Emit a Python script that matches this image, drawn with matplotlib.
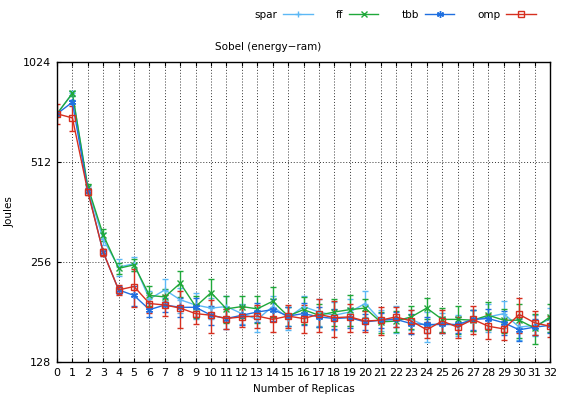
import numpy as np
import matplotlib
matplotlib.use("Agg")
import matplotlib.pyplot as plt
from matplotlib.ticker import FixedLocator, NullLocator

replicas = list(range(33))
spar = [715, 824, 425, 300, 247, 253, 198, 211, 197, 190, 186, 188, 179, 172, 188, 174,
        188, 181, 177, 181, 192, 171, 173, 172, 164, 168, 165, 171, 175, 179, 163, 165, 172]
ff = [715, 824, 431, 309, 245, 251, 203, 201, 221, 188, 207, 185, 188, 185, 195, 176,
      184, 177, 181, 184, 186, 169, 170, 175, 186, 172, 172, 171, 177, 171, 171, 162, 175]
tbb = [715, 775, 420, 274, 211, 203, 184, 190, 187, 187, 177, 173, 177, 181, 184, 176,
       179, 175, 173, 174, 169, 171, 172, 167, 166, 166, 166, 172, 173, 168, 160, 163, 165]
omp = [715, 695, 417, 274, 211, 216, 192, 190, 186, 179, 177, 173, 175, 176, 172, 176,
       173, 178, 174, 175, 170, 171, 175, 170, 160, 170, 163, 172, 164, 161, 178, 168, 164]

spar_err = [8, 14, 10, 12, 14, 12, 12, 16, 17, 17, 14, 14, 12, 14, 14, 14,
            14, 17, 17, 17, 17, 12, 16, 12, 17, 12, 12, 12, 17, 17, 14, 12, 14]
ff_err = [8, 14, 10, 12, 10, 10, 14, 12, 20, 14, 20, 17, 14, 17, 20, 12,
          17, 14, 17, 20, 12, 12, 12, 14, 14, 14, 17, 12, 17, 14, 20, 17, 17]
tbb_err = [6, 10, 7, 7, 6, 14, 9, 9, 12, 12, 12, 12, 12, 12, 14, 12,
           14, 12, 12, 12, 9, 9, 9, 12, 9, 9, 9, 12, 12, 14, 12, 9, 9]
omp_err = [50, 60, 10, 7, 7, 28, 12, 14, 24, 12, 20, 12, 12, 14, 14, 14,
           17, 20, 22, 17, 12, 17, 12, 14, 9, 14, 12, 17, 14, 12, 22, 14, 12]

y_ticks = [128, 256, 512, 1024]

fig = plt.figure(figsize=(5.61, 3.98), dpi=100)
ax = fig.add_axes([57/561, 1-362/398, (550-57)/561, (362-62)/398])

series = [
    ("spar", spar, spar_err, "#5cb8f5", "+", dict()),
    ("ff", ff, ff_err, "#1fa83a", "x", dict()),
    ("tbb", tbb, tbb_err, "#1f6fe0", (6, 2, 0), dict()),
    ("omp", omp, omp_err, "#d62f1f", "s", dict(markerfacecolor="none")),
]
handles = []
for name, vals, err, col, mk, extra in series:
    ax.errorbar(replicas, vals, yerr=err, color=col, marker=mk, markersize=5,
                linewidth=1.0, elinewidth=1.0, capsize=2.5, capthick=1.0,
                markeredgewidth=1.0, label=name, **extra)
    h, = ax.plot([], [], color=col, marker=mk, markersize=5, linewidth=1.0,
                 markeredgewidth=1.0, **extra)
    handles.append(h)

ax.set_yscale("log", base=2)
ax.set_ylim(128, 1024)
ax.set_xlim(0, 32)
ax.yaxis.set_major_locator(FixedLocator(y_ticks))
ax.yaxis.set_minor_locator(NullLocator())
ax.set_yticklabels([str(v) for v in y_ticks])
ax.set_xticks(replicas)
ax.set_xticklabels([str(r) for r in replicas])
ax.tick_params(axis="both", direction="in", labelsize=8, length=3, pad=4)
ax.tick_params(top=True, right=False)
ax.grid(True, which="major", color="black", linestyle=(0, (1, 2)), linewidth=0.7, alpha=0.8)
for sp in ax.spines.values():
    sp.set_linewidth(1.0)

ax.set_xlabel("Number of Replicas", fontsize=7.5, labelpad=5)
ax.set_ylabel("Joules", fontsize=7.5, labelpad=6)
fig.text(268/561, 1-47/398, "Sobel (energy\u2212ram)", ha="center", va="center", fontsize=7.5)

fig.legend(handles, ["spar", "ff", "tbb", "omp"], loc="center right",
           bbox_to_anchor=(545/561, 1-15/398), ncol=4, frameon=False,
           markerfirst=False, fontsize=7.5, handlelength=2.8, columnspacing=2.2,
           handletextpad=0.6)

fig.savefig("out.png", dpi=100)
